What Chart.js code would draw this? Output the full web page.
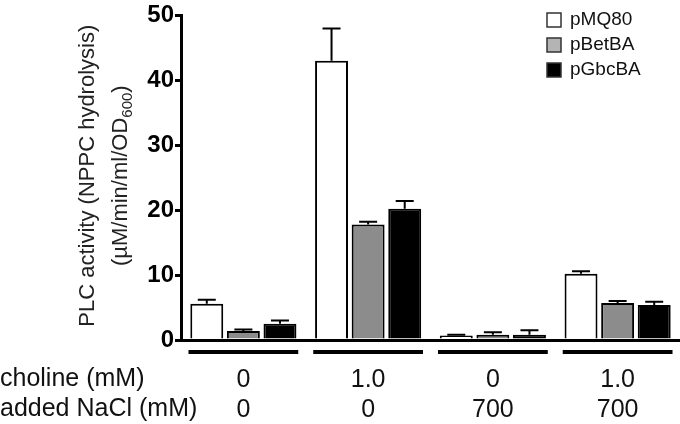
<!DOCTYPE html>
<html>
<head>
<meta charset="utf-8">
<script src="https://cdn.jsdelivr.net/npm/chart.js@4/dist/chart.umd.min.js"></script>
<style>
  html, body { margin: 0; padding: 0; background: #fff; }
  #wrap { width: 680px; height: 424px; }
</style>
</head>
<body>
<div id="wrap"><canvas id="chart"></canvas></div>
<script>
// data
const categories = [['0', '0'], ['1.0', '0'], ['0', '700'], ['1.0', '700']];
const rowLabels = ['choline (mM)', 'added NaCl (mM)'];
const seriesNames = ['pMQ80', 'pBetBA', 'pGbcBA'];
const pMQ80 = [5.6, 43.0, 0.7, 10.2];
const pBetBA = [1.4, 17.8, 0.8, 5.7];
const pGbcBA = [2.5, 20.2, 0.8, 5.4];
const pMQ80Err = [0.6, 5.0, 0.1, 0.4];
const pBetBAErr = [0.2, 0.4, 0.4, 0.3];
const pGbcBAErr = [0.5, 1.2, 0.7, 0.5];
const yTicks = [0, 10, 20, 30, 40, 50];
const yTitle = ['PLC activity (NPPC hydrolysis)', '(µM/min/ml/OD', '600', ')'];

const FONT = "'Liberation Sans', Arial, sans-serif";
const fills = ['#ffffff', '#8c8c8c', '#000000'];
const errors = [pMQ80Err, pBetBAErr, pGbcBAErr];

// upper-only error bars with caps
const errorBars = {
    id: 'errorBars',
    afterDatasetsDraw(chart) {
        const ctx = chart.ctx;
        const y = chart.scales.y;
        ctx.save();
        ctx.strokeStyle = '#000';
        ctx.lineWidth = 2;
        chart.data.datasets.forEach((ds, d) => {
            const meta = chart.getDatasetMeta(d);
            meta.data.forEach((bar, i) => {
                const top = y.getPixelForValue(ds.data[i] + errors[d][i]);
                ctx.beginPath();
                ctx.moveTo(bar.x, bar.y);
                ctx.lineTo(bar.x, top);
                ctx.moveTo(bar.x - 9, top);
                ctx.lineTo(bar.x + 9, top);
                ctx.stroke();
            });
        });
        ctx.restore();
    }
};

// group underlines, row headings, y title, legend
const extras = {
    id: 'extras',
    afterDraw(chart) {
        const ctx = chart.ctx;
        const x = chart.scales.x;
        const area = chart.chartArea;
        const half = x.width / categories.length * 0.88 / 2;
        ctx.save();
        ctx.strokeStyle = '#000';
        ctx.lineWidth = 4;
        categories.forEach((c, i) => {
            const cx = x.getPixelForValue(i);
            ctx.beginPath();
            ctx.moveTo(cx - half, area.bottom + 12);
            ctx.lineTo(cx + half, area.bottom + 12);
            ctx.stroke();
        });

        ctx.fillStyle = '#111';
        ctx.font = '25px ' + FONT;
        ctx.textBaseline = 'middle';
        ctx.textAlign = 'left';
        rowLabels.forEach((t, r) => ctx.fillText(t, 0, area.bottom + 39 + r * 30));

        // y axis title, two lines, with a real subscript
        const cy = (area.top + area.bottom) / 2 - 2;
        ctx.fillStyle = '#222';
        ctx.save();
        ctx.translate(88, cy);
        ctx.rotate(-Math.PI / 2);
        ctx.font = '22px ' + FONT;
        ctx.textAlign = 'center';
        ctx.fillText(yTitle[0], 0, 0);
        ctx.restore();

        ctx.save();
        ctx.translate(121, cy);
        ctx.rotate(-Math.PI / 2);
        ctx.textAlign = 'left';
        ctx.font = '22px ' + FONT;
        const w1 = ctx.measureText(yTitle[1]).width;
        const w3 = ctx.measureText(yTitle[3]).width;
        ctx.font = '15px ' + FONT;
        const w2 = ctx.measureText(yTitle[2]).width;
        let sx = -(w1 + w2 + w3) / 2;
        ctx.font = '22px ' + FONT;
        ctx.fillText(yTitle[1], sx, 0);
        sx += w1;
        ctx.font = '15px ' + FONT;
        ctx.fillText(yTitle[2], sx, 7);
        sx += w2;
        ctx.font = '22px ' + FONT;
        ctx.fillText(yTitle[3], sx, 0);
        ctx.restore();

        // legend
        ctx.font = '19px ' + FONT;
        ctx.textAlign = 'left';
        seriesNames.forEach((name, i) => {
            const ly = 20 + i * 25;
            ctx.fillStyle = i === 1 ? '#b4b4b4' : fills[i];
            ctx.fillRect(547, ly - 7, 14, 14);
            ctx.lineWidth = 1.5;
            ctx.strokeStyle = '#333';
            ctx.strokeRect(547, ly - 7, 14, 14);
            ctx.fillStyle = '#111';
            ctx.fillText(name, 570, ly);
        });
        ctx.restore();
    }
};

const ctx = document.getElementById('chart').getContext('2d');
const makeSet = (label, data, i) => ({
    label: label,
    data: data,
    backgroundColor: fills[i],
    borderColor: '#000',
    borderWidth: 2,
    categoryPercentage: 0.88,
    barPercentage: 0.9
});

new Chart(ctx, {
    type: 'bar',
    data: {
        labels: categories,
        datasets: [
            makeSet(seriesNames[0], pMQ80, 0),
            makeSet(seriesNames[1], pBetBA, 1),
            makeSet(seriesNames[2], pGbcBA, 2)
        ]
    },
    options: {
        responsive: true,
        maintainAspectRatio: false,
        animation: false,
        layout: { padding: { top: 8, right: 0, left: 0, bottom: 0 } },
        plugins: { legend: { display: false }, tooltip: { enabled: false } },
        scales: {
            x: {
                afterFit(s) { s.height = 84; },
                grid: { display: false, drawTicks: false },
                border: { display: true, width: 3, color: '#000' },
                ticks: {
                    color: '#111',
                    font: { family: FONT, size: 25, lineHeight: 1.2 },
                    padding: 25,
                    maxRotation: 0
                }
            },
            y: {
                min: 0,
                max: 50,
                afterFit(s) { s.width = 181; },
                afterBuildTicks(s) { s.ticks = yTicks.map(v => ({ value: v })); },
                grid: { display: true, drawOnChartArea: false, drawTicks: true, tickLength: 6, lineWidth: 3, color: '#000' },
                border: { display: true, width: 3, color: '#000' },
                ticks: {
                    color: '#000',
                    font: { family: FONT, size: 24, weight: 'bold' },
                    padding: 1
                },
                title: { display: false }
            }
        }
    },
    plugins: [errorBars, extras]
});
</script>
</body>
</html>
